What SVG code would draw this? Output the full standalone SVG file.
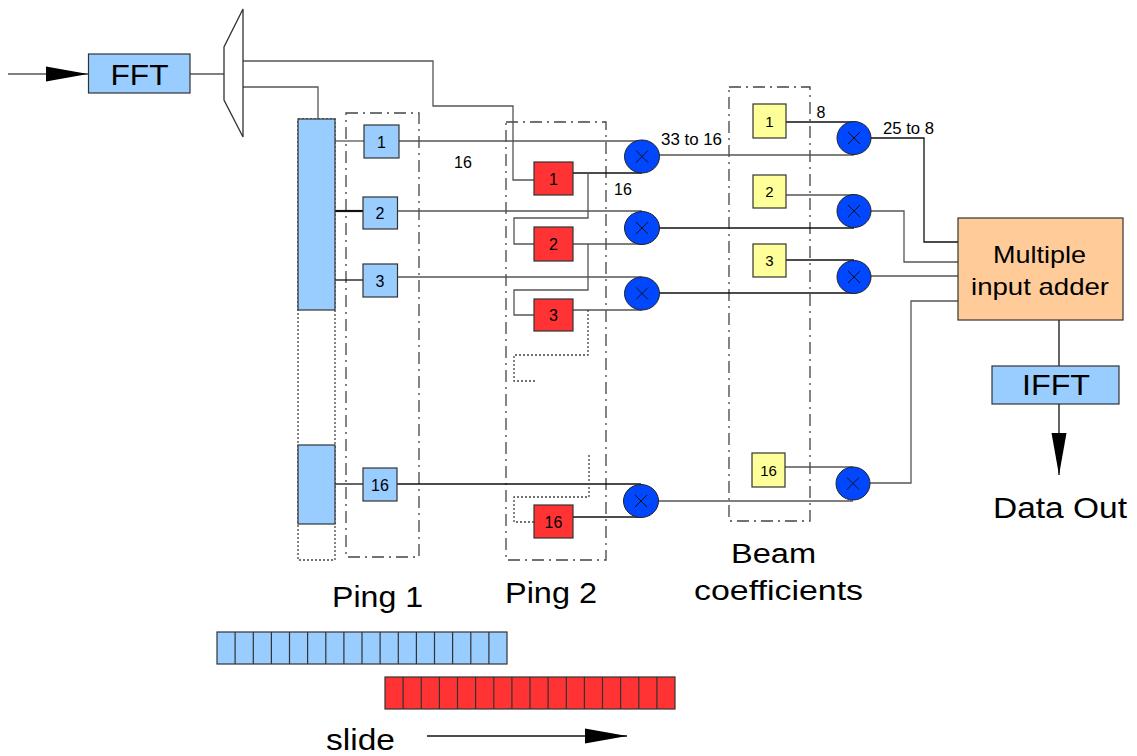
<svg xmlns="http://www.w3.org/2000/svg" width="1137" height="756" viewBox="0 0 1137 756">
<style>
.ln{fill:none;stroke:#555;stroke-width:1.3}
.lk{fill:none;stroke:#111;stroke-width:1.3}
.dot{fill:none;stroke:#444;stroke-width:1.3;stroke-dasharray:2 2}
.dd{fill:none;stroke:#444;stroke-width:1.3;stroke-dasharray:12 5 2 5}
.bl{fill:#99ccff;stroke:#333;stroke-width:1.2}
.rd{fill:#ff3333;stroke:#333;stroke-width:1.2}
.ye{fill:#ffff99;stroke:#333;stroke-width:1.2}
.mul{fill:#0047ff;stroke:#222;stroke-width:1}
.x{stroke:#111;stroke-width:1}
text{font-family:"Liberation Sans",Arial,sans-serif;fill:#000}
.s{font-size:16px;text-anchor:middle}
.ys{font-size:15px;text-anchor:middle}
.L{font-size:30px}
</style>
<defs>
<marker id="ah" markerUnits="userSpaceOnUse" markerWidth="42" markerHeight="16" refX="42" refY="8" orient="auto">
<path d="M0,0.5 L42,8 L0,15.5 Z" fill="#000"/>
</marker>
<marker id="ahv" markerUnits="userSpaceOnUse" markerWidth="42" markerHeight="16" refX="42" refY="8" orient="auto">
<path d="M0,0.5 L42,8 L0,15.5 Z" fill="#000"/>
</marker>
<g id="xm"><line class="x" x1="-6" y1="-6" x2="6" y2="6"/><line class="x" x1="-6" y1="6" x2="6" y2="-6"/></g>
</defs>

<g id="containers">
<rect id="ping1-box" class="dd" x="346" y="113" width="73" height="444"/>
<rect id="ping2-box" class="dd" x="506" y="122" width="100" height="438"/>
<rect id="beam-box" class="dd" x="729" y="87" width="81" height="434"/>
<rect id="buffer-outline" class="dot" x="298" y="119" width="37" height="441"/>
</g>

<g id="connectors">
<path class="ln" d="M8,74 H88" marker-end="url(#ah)"/>
<path class="ln" d="M190,74 H224"/>
<path class="ln" d="M243,61 H433 V106 H513 V180 H534"/>
<path class="ln" d="M243,87 H318 V119"/>
<path class="ln" d="M335,141 H364"/>
<path class="ln" d="M399,141 H642"/>
<path class="lk" style="stroke-width:2.2" d="M335,211 H363"/>
<path class="ln" d="M397,211 H642"/>
<path class="lk" d="M335,280 H363"/>
<path class="ln" d="M397,277 H642"/>
<path class="lk" d="M335,484 H363"/>
<path class="lk" d="M397,484 H641"/>
<path class="lk" d="M573,173 H642"/>
<path class="ln" d="M588,173 V218 H514 V244 H534"/>
<path class="ln" d="M573,244 H642"/>
<path class="ln" d="M588,244 V290 H514 V315 H534"/>
<path class="ln" d="M573,310 H642"/>
<path class="dot" d="M588,310 V355 H514 V381 H535"/>
<path class="dot" d="M589,455 V497 H514 V522 H534"/>
<path class="lk" d="M573,517 H641"/>
<path class="ln" d="M659,155 H854"/>
<path class="lk" d="M659,228 H854"/>
<path class="lk" d="M659,293 H854"/>
<path class="ln" d="M658,501 H853"/>
<path class="lk" d="M786,122 H854"/>
<path class="ln" d="M786,195 H854"/>
<path class="lk" d="M786,260 H854"/>
<path class="ln" d="M785,467 H853"/>
<path class="lk" d="M871,138 H924 V242 H958"/>
<path class="ln" d="M871,211 H904 V262 H958"/>
<path class="ln" d="M871,276 H958"/>
<path class="ln" d="M870,483 H911 V301 H958"/>
<path class="lk" d="M1059,320 V366"/>
<path class="lk" d="M1059,404 V475" marker-end="url(#ahv)"/>
<path class="lk" d="M427,736 H627" marker-end="url(#ah)"/>
</g>

<g id="fft">
<rect class="bl" x="88.5" y="54" width="101.5" height="39"/>
<text class="L" x="139.5" y="85" text-anchor="middle" textLength="58" lengthAdjust="spacingAndGlyphs">FFT</text>
</g>
<g id="demux">
<polygon points="243,9 243,137 224,100 224,47" fill="#fff" stroke="#333" stroke-width="1.3"/>
</g>

<g id="buffer">
<rect class="bl" x="298" y="119" width="37" height="191"/>
<rect class="bl" x="298" y="445" width="37" height="79"/>
</g>

<g id="ping1-1"><rect class="bl" x="364" y="125" width="35" height="33"/><text class="s" x="381.5" y="147.5">1</text></g>
<g id="ping1-2"><rect class="bl" x="363" y="197" width="34.5" height="32"/><text class="s" x="380" y="218.5">2</text></g>
<g id="ping1-3"><rect class="bl" x="363" y="264" width="34.5" height="33"/><text class="s" x="380" y="286.5">3</text></g>
<g id="ping1-16"><rect class="bl" x="363" y="468" width="34" height="33"/><text class="s" x="380" y="490.5">16</text></g>

<g id="ping2-1"><rect class="rd" x="534" y="162" width="39" height="33"/><text class="s" x="553.5" y="184.5">1</text></g>
<g id="ping2-2"><rect class="rd" x="534" y="227" width="39" height="34"/><text class="s" x="553.5" y="250">2</text></g>
<g id="ping2-3"><rect class="rd" x="534" y="299" width="39" height="32"/><text class="s" x="553.5" y="321">3</text></g>
<g id="ping2-16"><rect class="rd" x="534" y="505" width="39" height="33"/><text class="s" x="553.5" y="527.5">16</text></g>

<g id="beam-1"><rect class="ye" x="753" y="104" width="33" height="34"/><text class="ys" x="769.5" y="126.5">1</text></g>
<g id="beam-2"><rect class="ye" x="753" y="175" width="33" height="33"/><text class="ys" x="769.5" y="197">2</text></g>
<g id="beam-3"><rect class="ye" x="753" y="244" width="33" height="33"/><text class="ys" x="769.5" y="266">3</text></g>
<g id="beam-16"><rect class="ye" x="752" y="453" width="33" height="34"/><text class="ys" x="768.5" y="475.5">16</text></g>

<g id="mul1-1"><ellipse class="mul" cx="642" cy="156.5" rx="17.5" ry="16.5"/><use href="#xm" x="642" y="156.5"/></g>
<g id="mul1-2"><ellipse class="mul" cx="642" cy="228" rx="17.5" ry="16.5"/><use href="#xm" x="642" y="228"/></g>
<g id="mul1-3"><ellipse class="mul" cx="642" cy="293.5" rx="17.5" ry="16.5"/><use href="#xm" x="642" y="293.5"/></g>
<g id="mul1-16"><ellipse class="mul" cx="641" cy="501" rx="17.5" ry="16.5"/><use href="#xm" x="641" y="501"/></g>

<g id="mul2-1"><ellipse class="mul" cx="854" cy="138" rx="17" ry="16.5"/><use href="#xm" x="854" y="138"/></g>
<g id="mul2-2"><ellipse class="mul" cx="854" cy="211" rx="17" ry="16.5"/><use href="#xm" x="854" y="211"/></g>
<g id="mul2-3"><ellipse class="mul" cx="854" cy="277" rx="17" ry="16.5"/><use href="#xm" x="854" y="277"/></g>
<g id="mul2-16"><ellipse class="mul" cx="853" cy="483.5" rx="17" ry="16.5"/><use href="#xm" x="853" y="483.5"/></g>

<g id="adder">
<rect x="958" y="218" width="165" height="102" fill="#ffcc99" stroke="#333" stroke-width="1.2"/>
<text x="993" y="263" font-size="24" textLength="93" lengthAdjust="spacingAndGlyphs">Multiple</text>
<text x="971" y="295" font-size="24" textLength="138" lengthAdjust="spacingAndGlyphs">input adder</text>
</g>
<g id="ifft">
<rect class="bl" x="992" y="366" width="127" height="38"/>
<text x="1022" y="395" font-size="29" textLength="68" lengthAdjust="spacingAndGlyphs">IFFT</text>
</g>

<g id="labels">
<text class="s" x="463" y="167.5">16</text>
<text class="s" x="623" y="194.5">16</text>
<text x="661" y="144.5" font-size="16" textLength="61" lengthAdjust="spacingAndGlyphs">33 to 16</text>
<text class="s" x="821" y="117.5">8</text>
<text x="883" y="133.5" font-size="16" textLength="51" lengthAdjust="spacingAndGlyphs">25 to 8</text>
<text class="L" x="332" y="607" textLength="91" lengthAdjust="spacingAndGlyphs">Ping 1</text>
<text class="L" x="505" y="603" textLength="92" lengthAdjust="spacingAndGlyphs">Ping 2</text>
<text x="731" y="563" font-size="27" textLength="85" lengthAdjust="spacingAndGlyphs">Beam</text>
<text x="694" y="600" font-size="27" textLength="169" lengthAdjust="spacingAndGlyphs">coefficients</text>
<text class="L" x="993" y="518" textLength="134" lengthAdjust="spacingAndGlyphs">Data Out</text>
<text class="L" x="326" y="750" textLength="69" lengthAdjust="spacingAndGlyphs">slide</text>
</g>

<g id="ping1-bar">
<rect class="bl" x="217" y="632" width="290" height="32"/>
<path d="M235.1,632 V664 M253.3,632 V664 M271.4,632 V664 M289.5,632 V664 M307.6,632 V664 M325.8,632 V664 M343.9,632 V664 M362,632 V664 M380.1,632 V664 M398.3,632 V664 M416.4,632 V664 M434.5,632 V664 M452.6,632 V664 M470.8,632 V664 M488.9,632 V664" stroke="#333" stroke-width="1.2"/>
</g>
<g id="ping2-bar">
<rect class="rd" x="385" y="677" width="290" height="32"/>
<path d="M403.1,677 V709 M421.3,677 V709 M439.4,677 V709 M457.5,677 V709 M475.6,677 V709 M493.8,677 V709 M511.9,677 V709 M530,677 V709 M548.1,677 V709 M566.3,677 V709 M584.4,677 V709 M602.5,677 V709 M620.6,677 V709 M638.8,677 V709 M656.9,677 V709" stroke="#333" stroke-width="1.2"/>
</g>
</svg>
